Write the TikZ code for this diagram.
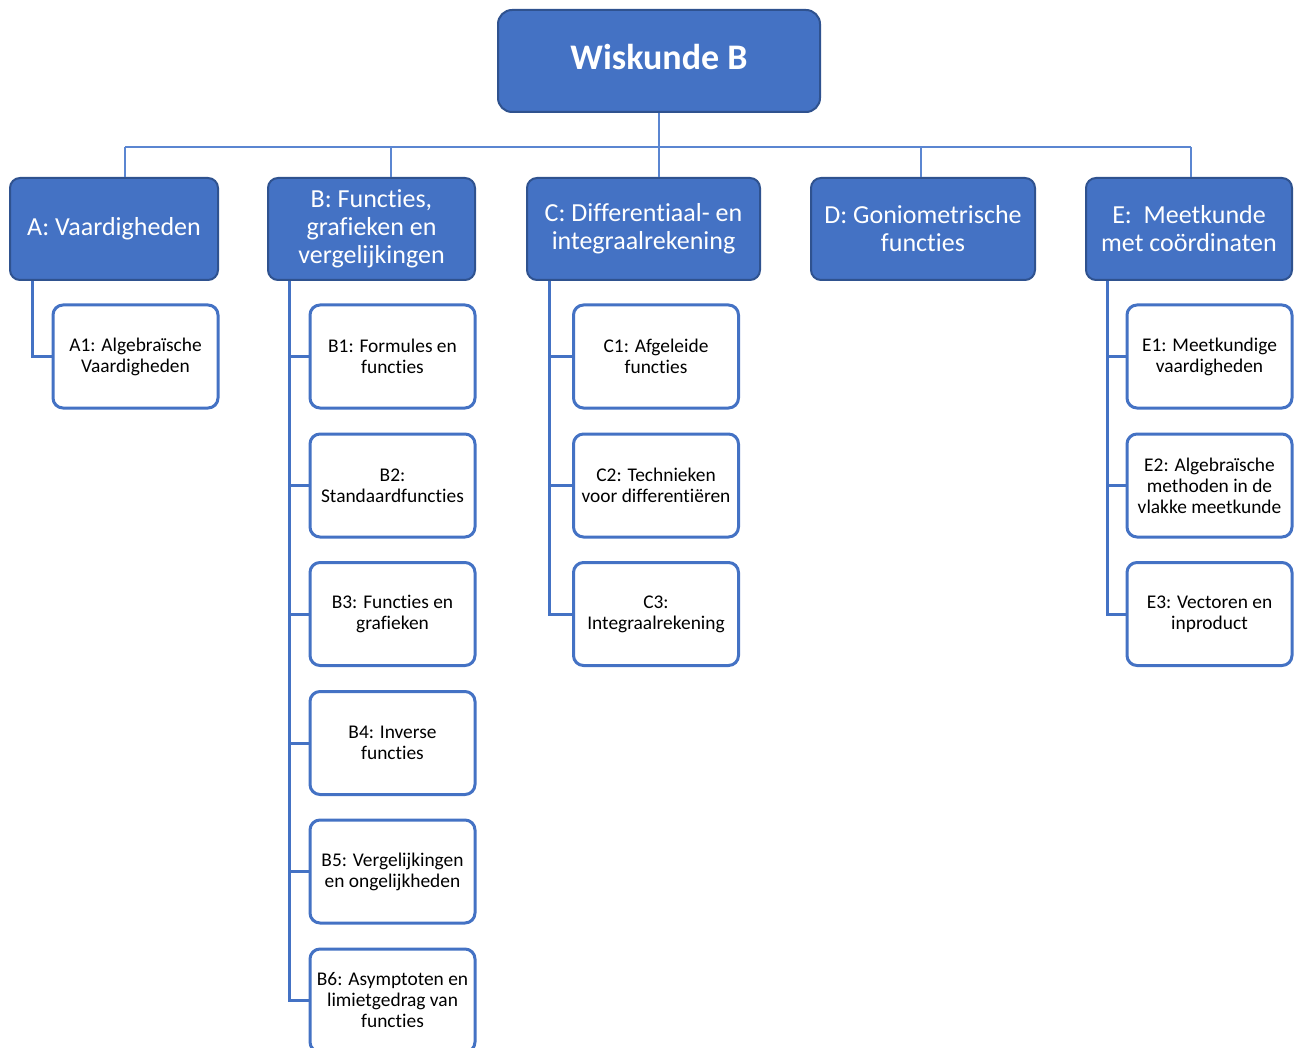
\documentclass[tikz,border=0pt]{standalone}
\usepackage{fontspec}
\setmainfont[Ligatures={NoCommon}]{Carlito}
\definecolor{accent}{HTML}{4472C4}
\definecolor{accentdark}{HTML}{2F528F}
\definecolor{busblue}{HTML}{5B86D1}
\begin{document}
\begin{tikzpicture}[x=0.5pt,y=-0.5pt,
  topbox/.style={draw=accentdark,line width=1pt,fill=accent,rounded corners=7pt,
    text=white,font=\fontsize{18}{20}\selectfont\bfseries,align=center,
    minimum width=161pt,minimum height=51pt,inner sep=0pt,text depth=4pt},
  lvlbox/.style={draw=accentdark,line width=1pt,fill=accent,rounded corners=5pt,
    text=white,font=\fontsize{13}{14}\selectfont,align=center,
    minimum height=51pt,inner sep=0pt},
  childbox/.style={draw=accent,line width=1.5pt,fill=white,rounded corners=5pt,
    text=black,font=\fontsize{9.7}{10.5}\selectfont,align=center,
    minimum width=82.5pt,minimum height=51.5pt,inner sep=0pt},
  busline/.style={draw=busblue,line width=0.8pt},
  treeline/.style={draw=accent,line width=1.5pt}
]
\useasboundingbox (0,0) rectangle (1296,1048);
\begin{scope}
\clip (0,0) rectangle (1296,1048);
% top
\node[topbox] (top) at (659,61) {Wiskunde B};
% level 1
\node[lvlbox,minimum width=104pt] (A) at (114,229) {A: Vaardigheden};
\node[lvlbox,minimum width=103.5pt] (B) at (371.5,229) {B: Functies,\\grafieken en\\vergelijkingen};
\node[lvlbox,minimum width=116.5pt] (C) at (643.5,229) {C: Differentiaal- en\\integraalrekening};
\node[lvlbox,minimum width=112pt] (D) at (923,229) {D: Goniometrische\\functies};
\node[lvlbox,minimum width=103pt] (E) at (1189,229) {E:\ \ Meetkunde\\met coördinaten};
% bus
\coordinate (dA) at (125,147);
\coordinate (dB) at (391,147);
\coordinate (dD) at (921,147);
\coordinate (dE) at (1191,147);
\draw[busline] (dA) -- (dE);
\draw[busline] (top.south) -- (top.south |- C.north);
\draw[busline] (dA) -- (dA |- A.north);
\draw[busline] (dB) -- (dB |- B.north);
\draw[busline] (dD) -- (dD |- D.north);
\draw[busline] (dE) -- (dE |- E.north);
% children
\node[childbox] (A1) at (135.5,356.5) {A1: Algebraïsche\\Vaardigheden};
\node[childbox] (B1) at (392.5,356.5) {B1: Formules en\\functies};
\node[childbox] (B2) at (392.5,485.5) {B2:\\Standaardfuncties};
\node[childbox] (B3) at (392.5,614) {B3: Functies en\\grafieken};
\node[childbox] (B4) at (392.5,743) {B4: Inverse\\functies};
\node[childbox] (B5) at (392.5,871.5) {B5: Vergelijkingen\\en ongelijkheden};
\node[childbox] (B6) at (392.5,1000.5) {B6: Asymptoten en\\limietgedrag van\\functies};
\node[childbox] (C1) at (656,356.5) {C1: Afgeleide\\functies};
\node[childbox] (C2) at (656,485.5) {C2: Technieken\\voor differentiëren};
\node[childbox] (C3) at (656,614) {C3:\\Integraalrekening};
\node[childbox] (E1) at (1209.5,356.5) {E1: Meetkundige\\vaardigheden};
\node[childbox] (E2) at (1209.5,485.5) {E2: Algebraïsche\\methoden in de\\vlakke meetkunde};
\node[childbox] (E3) at (1209.5,614) {E3: Vectoren en\\inproduct};
% tree connectors
\coordinate (sA) at (32,0);
\coordinate (sB) at (289,0);
\coordinate (sC) at (549,0);
\coordinate (sE) at (1107,0);
\draw[treeline] (A.south -| sA) |- (A1.west);
\draw[treeline] (B.south -| sB) |- (B6.west);
\foreach \n in {B1,B2,B3,B4,B5} \draw[treeline] (\n.west -| sB) -- (\n.west);
\draw[treeline] (C.south -| sC) |- (C3.west);
\foreach \n in {C1,C2} \draw[treeline] (\n.west -| sC) -- (\n.west);
\draw[treeline] (E.south -| sE) |- (E3.west);
\foreach \n in {E1,E2} \draw[treeline] (\n.west -| sE) -- (\n.west);
\end{scope}
\end{tikzpicture}
\end{document}
